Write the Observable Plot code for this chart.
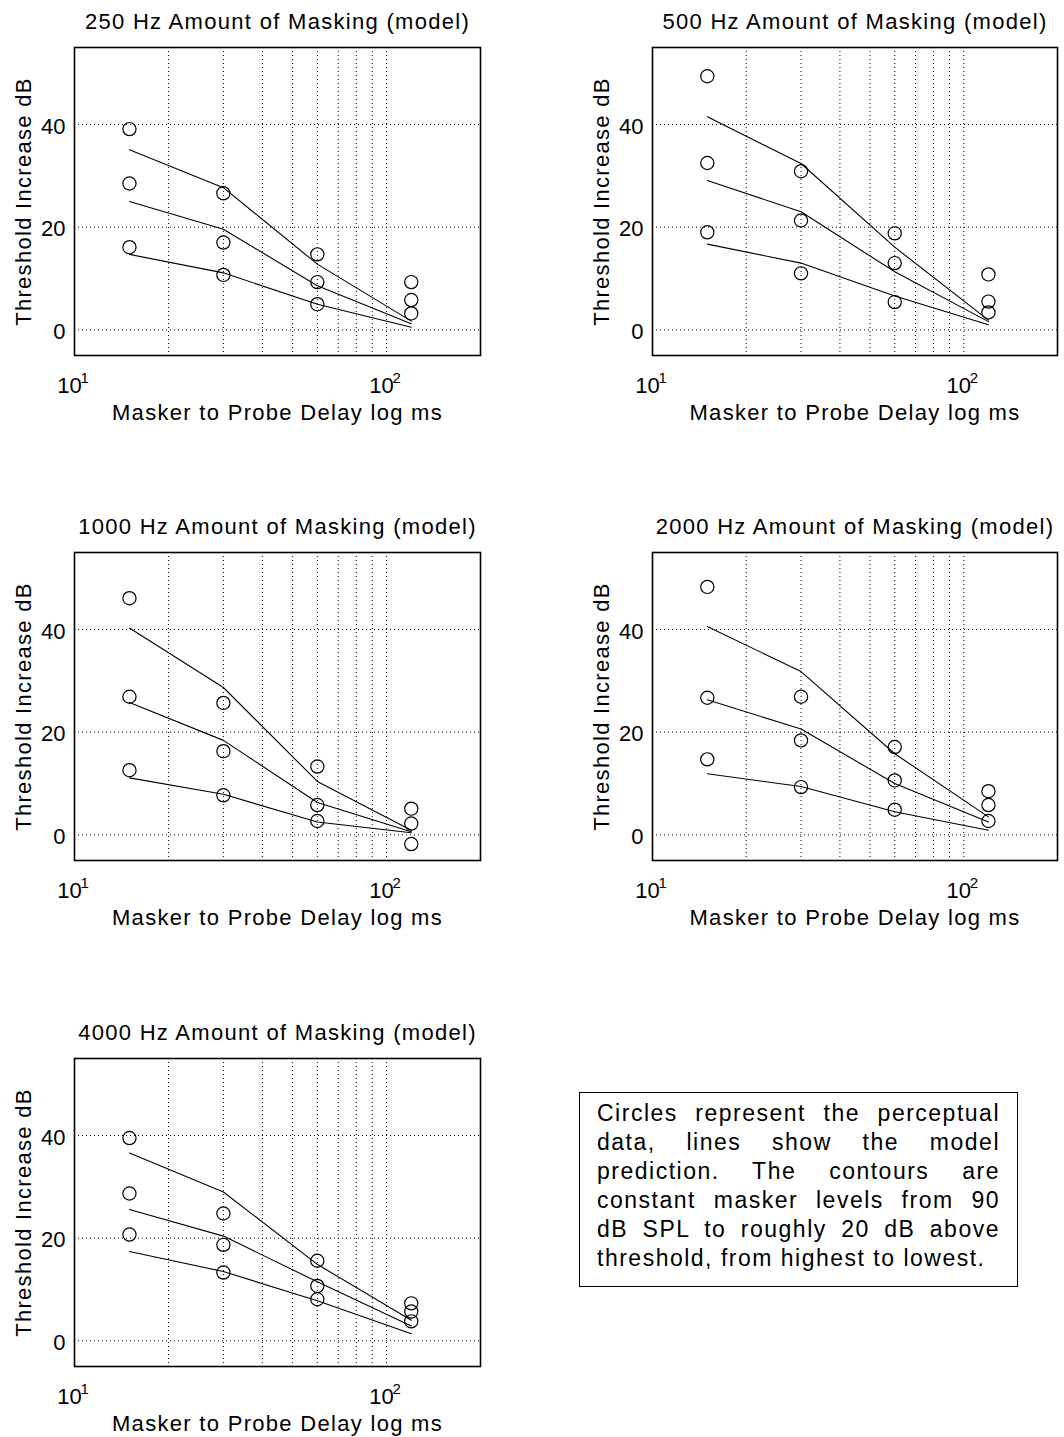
<!DOCTYPE html>
<html>
<head>
<meta charset="utf-8">
<script src="https://cdn.jsdelivr.net/npm/d3@7"></script>
<script src="https://cdn.jsdelivr.net/npm/@observablehq/plot@0.6"></script>
<style>
  html, body { margin: 0; padding: 0; background: #fff; }
  #root { position: relative; width: 1064px; height: 1437px; background: #fff;
          font-family: "Liberation Sans", Arial, Helvetica, sans-serif; color: #000; }
  .panel { position: absolute; }
  .panel svg { overflow: visible; }
  #note { position: absolute; left: 579px; top: 1092px; width: 403px;
          border: 1.5px solid #000; padding: 6px 17px 13px 17px;
          font-size: 23px; line-height: 29px; letter-spacing: 1.5px; }
  #note div { text-align: justify; text-align-last: justify; white-space: nowrap; }
  #note div.last { text-align: left; text-align-last: left; }
</style>
</head>
<body>
<div id="root"></div>
<script>
// ---- data ----
const delays = [15, 30, 60, 120];            // masker to probe delay (ms)
const frequencies = [250, 500, 1000, 2000, 4000];
const xTicks = [10, 100];
const yTicks = [0, 20, 40];
const xGrid = [20, 30, 40, 50, 60, 70, 80, 90, 100];

// perceptual data (circles): [high level, mid level, low level] x delays
const circles250  = [[39.1, 26.6, 14.7, 9.3], [28.5, 17.0, 9.3, 5.8], [16.1, 10.7, 5.0, 3.2]];
const circles500  = [[49.4, 30.9, 18.8, 10.8], [32.5, 21.3, 13.0, 5.5], [19.0, 11.0, 5.4, 3.4]];
const circles1000 = [[46.1, 25.7, 13.3, 5.1], [26.9, 16.3, 5.8, 2.2], [12.6, 7.7, 2.7, -1.8]];
const circles2000 = [[48.3, 26.9, 17.1, 8.5], [26.7, 18.4, 10.6, 5.8], [14.7, 9.3, 4.9, 2.7]];
const circles4000 = [[39.5, 24.8, 15.6, 7.3], [28.7, 18.7, 10.7, 5.7], [20.7, 13.3, 8.1, 3.8]];

// model predictions (lines)
const model250  = [[35.1, 27.7, 12.8, 1.7], [25.0, 19.6, 8.6, 1.2], [14.7, 11.1, 5.0, 0.5]];
const model500  = [[41.5, 32.4, 16.1, 1.9], [29.1, 23.0, 11.3, 1.6], [16.7, 13.0, 6.6, 1.0]];
const model1000 = [[40.3, 28.7, 10.4, 0.9], [25.8, 18.4, 6.3, 0.6], [11.1, 7.9, 2.5, 0.4]];
const model2000 = [[40.6, 31.8, 15.8, 3.5], [26.3, 20.6, 10.0, 2.5], [11.9, 9.4, 4.5, 0.9]];
const model4000 = [[36.6, 29.0, 14.9, 4.0], [25.6, 20.4, 11.5, 2.9], [17.4, 13.5, 7.8, 1.4]];

const levelNames = ["high", "mid", "low"];
const noteLines = [
  "Circles represent the perceptual",
  "data, lines show the model",
  "prediction. The contours are",
  "constant masker levels from 90",
  "dB SPL to roughly 20 dB above",
  "threshold, from highest to lowest."
];
const yLabel = "Threshold Increase dB";
const xLabel = "Masker to Probe Delay log ms";

// ---- build ----
const circlesByFreq = [circles250, circles500, circles1000, circles2000, circles4000];
const modelByFreq = [model250, model500, model1000, model2000, model4000];

function rows(table) {
  const out = [];
  table.forEach((vals, i) => vals.forEach((v, j) => out.push({delay: delays[j], value: v, level: levelNames[i]})));
  return out;
}

const FONT = "Liberation Sans, Arial, Helvetica, sans-serif";
const root = document.getElementById("root");

// layout of panels (column, row)
const slots = [[0, 0], [1, 0], [0, 1], [1, 1], [0, 2]];
const rowTops = [0, 505, 1011];

frequencies.forEach((f, k) => {
  const [col, row] = slots[k];
  const isLeft = col === 0;
  const width = isLeft ? 520 : 524;
  const marginLeft = isLeft ? 74 : 112;
  const marginRight = isLeft ? 40 : 7;
  const chart = Plot.plot({
    width, height: 430,
    marginLeft, marginRight, marginTop: 47, marginBottom: 75,
    x: {type: "log", domain: [10, 200], axis: null},
    y: {domain: [-5, 55], axis: null},
    style: {fontFamily: FONT, fontSize: "22px", background: "white", color: "black", overflow: "visible"},
    marks: [
      Plot.ruleX(xGrid, {x: d => d, stroke: "#000", strokeWidth: 1, strokeDasharray: "1,3"}),
      Plot.ruleY(yTicks, {y: d => d, stroke: "#000", strokeWidth: 1, strokeDasharray: "1,3"}),
      Plot.line(rows(modelByFreq[k]), {x: "delay", y: "value", z: "level", stroke: "#000", strokeWidth: 1.1}),
      Plot.dot(rows(circlesByFreq[k]), {x: "delay", y: "value", r: 6.6, stroke: "#000", fill: "none", strokeWidth: 1.2}),
      Plot.frame({stroke: "#000", strokeWidth: 1.6}),
      Plot.axisY(yTicks, {tickSize: 0, tickPadding: 9, fontSize: 22, label: null, dy: 2}),
      Plot.text(xTicks, {x: d => d, frameAnchor: "bottom", text: () => "10", dx: -5, dy: 30, lineAnchor: "middle", fontSize: 22, fill: "#000"}),
      Plot.text(xTicks, {x: d => d, frameAnchor: "bottom", text: d => String(Math.round(Math.log10(d))), dx: 6, dy: 23, lineAnchor: "middle", textAnchor: "start", fontSize: 15, fill: "#000"}),
      Plot.text([`${f} Hz Amount of Masking (model)`], {frameAnchor: "top", dy: -19, lineAnchor: "bottom", textAnchor: "middle", fontSize: 22, fill: "#000"}),
      Plot.text([xLabel], {frameAnchor: "bottom", dy: 57, lineAnchor: "middle", textAnchor: "middle", fontSize: 22, fill: "#000"}),
      Plot.text([yLabel], {frameAnchor: "left", dx: -51, rotate: -90, lineAnchor: "middle", textAnchor: "middle", fontSize: 22, fill: "#000"})
    ]
  });
  d3.select(chart).selectAll('g[aria-label="text"] text')
    .filter(function () { return this.textContent.length > 4; })
    .style("letter-spacing", "1.3px");
  const wrap = document.createElement("div");
  wrap.className = "panel";
  wrap.style.left = (isLeft ? 0 : 540) + "px";
  wrap.style.top = rowTops[row] + "px";
  wrap.appendChild(chart);
  root.appendChild(wrap);
});

const note = document.createElement("div");
note.id = "note";
noteLines.forEach((t, i) => {
  const d = document.createElement("div");
  d.textContent = t;
  if (i === noteLines.length - 1) d.className = "last";
  note.appendChild(d);
});
root.appendChild(note);
</script>
</body>
</html>
